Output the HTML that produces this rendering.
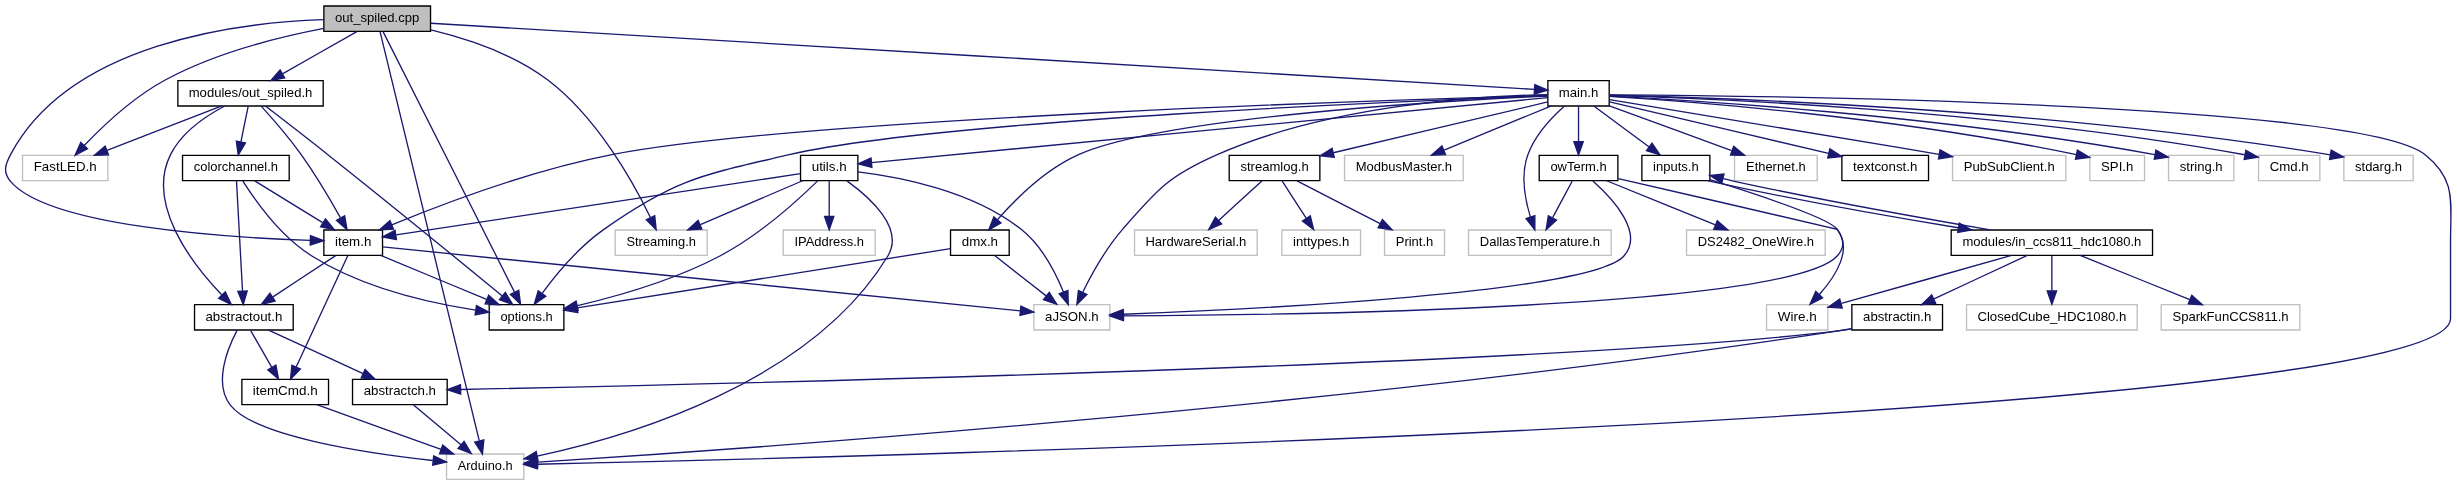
<!DOCTYPE html>
<html><head><meta charset="utf-8"><title>out_spiled.cpp include graph</title>
<style>
html,body{margin:0;padding:0;background:#fff;}
body{width:2457px;height:485px;overflow:hidden;}
svg{display:block;will-change:transform;}
svg text{font-family:"Liberation Sans",sans-serif;font-size:10px;fill:#000;}
</style></head><body>
<svg width="2457" height="485" viewBox="0 0 1842.75 363.75" preserveAspectRatio="xMinYMin meet">
<g id="graph0" class="graph" transform="scale(1 1) rotate(0) translate(4 360)">
<polygon fill="white" stroke="none" points="-4,4 -4,-360 1839.01,-360 1839.01,4 -4,4"/>
<g id="node1" class="node">
<polygon fill="#bfbfbf" stroke="black" points="238.9,-336.5 238.9,-355.5 318.9,-355.5 318.9,-336.5 238.9,-336.5"/>
<text text-anchor="middle" x="278.9" y="-343.5" textLength="63.20" lengthAdjust="spacingAndGlyphs">out_spiled.cpp</text>
</g>
<g id="node2" class="node">
<polygon fill="white" stroke="black" points="129.4,-280.5 129.4,-299.5 238.4,-299.5 238.4,-280.5 129.4,-280.5"/>
<text text-anchor="middle" x="183.9" y="-287.5" textLength="92.70" lengthAdjust="spacingAndGlyphs">modules/out_spiled.h</text>
</g>
<g id="edge1" class="edge">
<path fill="none" stroke="#191970" d="M263.64,-336.32C248.68,-327.82 225.65,-314.73 208.18,-304.8"/>
<polygon fill="#191970" stroke="#191970" points="209.55,-301.55 199.13,-299.65 206.09,-307.64 209.55,-301.55"/>
</g>
<g id="node3" class="node">
<polygon fill="white" stroke="black" points="362.9,-112.5 362.9,-131.5 418.9,-131.5 418.9,-112.5 362.9,-112.5"/>
<text text-anchor="middle" x="390.9" y="-119.5" textLength="39.20" lengthAdjust="spacingAndGlyphs">options.h</text>
</g>
<g id="edge20" class="edge">
<path fill="none" stroke="#191970" d="M283.29,-336.3C299.88,-303.42 358.92,-186.39 381.78,-141.09"/>
<polygon fill="#191970" stroke="#191970" points="385.04,-142.39 386.42,-131.88 378.79,-139.24 385.04,-142.39"/>
</g>
<g id="node5" class="node">
<polygon fill="white" stroke="#bfbfbf" points="330.9,-0.5 330.9,-19.5 388.9,-19.5 388.9,-0.5 330.9,-0.5"/>
<text text-anchor="middle" x="359.9" y="-7.5" textLength="41.20" lengthAdjust="spacingAndGlyphs">Arduino.h</text>
</g>
<g id="edge19" class="edge">
<path fill="none" stroke="#191970" d="M280.99,-336.41C291.66,-292.38 340.32,-91.74 355.42,-29.48"/>
<polygon fill="#191970" stroke="#191970" points="358.88,-30.08 357.83,-19.54 352.07,-28.43 358.88,-30.08"/>
</g>
<g id="node8" class="node">
<polygon fill="white" stroke="black" points="238.9,-168.5 238.9,-187.5 282.9,-187.5 282.9,-168.5 238.9,-168.5"/>
<text text-anchor="middle" x="260.9" y="-175.5" textLength="27.20" lengthAdjust="spacingAndGlyphs">item.h</text>
</g>
<g id="edge23" class="edge">
<path fill="none" stroke="#191970" d="M238.69,-345.22C173.69,-343.04 48.37,-327.64 3.9,-244 -0.27,-236.15 -1.82,-230.81 3.9,-224 32.27,-190.23 166.19,-181.8 228.66,-179.7"/>
<polygon fill="#191970" stroke="#191970" points="228.87,-183.19 238.75,-179.39 228.65,-176.19 228.87,-183.19"/>
</g>
<g id="node11" class="node">
<polygon fill="white" stroke="#bfbfbf" points="12.9,-224.5 12.9,-243.5 76.9,-243.5 76.9,-224.5 12.9,-224.5"/>
<text text-anchor="middle" x="44.9" y="-231.5" textLength="47.20" lengthAdjust="spacingAndGlyphs">FastLED.h</text>
</g>
<g id="edge22" class="edge">
<path fill="none" stroke="#191970" d="M238.84,-338.69C205.53,-332.3 157.64,-320.37 119.9,-300 96.11,-287.16 73.3,-265.63 59.21,-250.9"/>
<polygon fill="#191970" stroke="#191970" points="61.71,-248.44 52.33,-243.51 56.59,-253.21 61.71,-248.44"/>
</g>
<g id="node12" class="node">
<polygon fill="white" stroke="#bfbfbf" points="457.4,-168.5 457.4,-187.5 526.4,-187.5 526.4,-168.5 457.4,-168.5"/>
<text text-anchor="middle" x="491.9" y="-175.5" textLength="52.20" lengthAdjust="spacingAndGlyphs">Streaming.h</text>
</g>
<g id="edge21" class="edge">
<path fill="none" stroke="#191970" d="M319.19,-337.57C346.07,-331.09 381.08,-319.56 406.9,-300 443.94,-271.95 471.09,-223.09 483.82,-196.86"/>
<polygon fill="#191970" stroke="#191970" points="487.04,-198.25 488.12,-187.71 480.7,-195.27 487.04,-198.25"/>
</g>
<g id="node13" class="node">
<polygon fill="white" stroke="black" points="1156.9,-280.5 1156.9,-299.5 1202.9,-299.5 1202.9,-280.5 1156.9,-280.5"/>
<text text-anchor="middle" x="1179.9" y="-287.5" textLength="29.70" lengthAdjust="spacingAndGlyphs">main.h</text>
</g>
<g id="edge24" class="edge">
<path fill="none" stroke="#191970" d="M319.07,-342.59C470.84,-333.5 1007.72,-301.32 1146.8,-292.98"/>
<polygon fill="#191970" stroke="#191970" points="1147.08,-296.47 1156.85,-292.38 1146.66,-289.49 1147.08,-296.47"/>
</g>
<g id="edge2" class="edge">
<path fill="none" stroke="#191970" d="M195.08,-280.45C206.8,-271.45 225.73,-256.84 241.9,-244 289.44,-206.26 344.77,-160.97 372.73,-137.97"/>
<polygon fill="#191970" stroke="#191970" points="374.99,-140.65 380.49,-131.59 370.54,-135.24 374.99,-140.65"/>
</g>
<g id="node4" class="node">
<polygon fill="white" stroke="black" points="141.9,-112.5 141.9,-131.5 215.9,-131.5 215.9,-112.5 141.9,-112.5"/>
<text text-anchor="middle" x="178.9" y="-119.5" textLength="57.70" lengthAdjust="spacingAndGlyphs">abstractout.h</text>
</g>
<g id="edge3" class="edge">
<path fill="none" stroke="#191970" d="M164.61,-280.48C150.47,-273.08 132.35,-260.89 123.9,-244 105.35,-206.89 139.99,-162.22 162.25,-138.92"/>
<polygon fill="#191970" stroke="#191970" points="164.94,-141.17 169.5,-131.61 159.98,-136.24 164.94,-141.17"/>
</g>
<g id="edge9" class="edge">
<path fill="none" stroke="#191970" d="M191.91,-280.38C199.92,-271.56 212.38,-257.31 221.9,-244 232.88,-228.65 243.8,-210.09 251.28,-196.74"/>
<polygon fill="#191970" stroke="#191970" points="254.51,-198.14 256.27,-187.69 248.38,-194.76 254.51,-198.14"/>
</g>
<g id="node10" class="node">
<polygon fill="white" stroke="black" points="132.9,-224.5 132.9,-243.5 212.9,-243.5 212.9,-224.5 132.9,-224.5"/>
<text text-anchor="middle" x="172.9" y="-231.5" textLength="63.20" lengthAdjust="spacingAndGlyphs">colorchannel.h</text>
</g>
<g id="edge14" class="edge">
<path fill="none" stroke="#191970" d="M182.09,-280.08C180.63,-272.93 178.53,-262.64 176.71,-253.69"/>
<polygon fill="#191970" stroke="#191970" points="180.11,-252.85 174.68,-243.75 173.25,-254.25 180.11,-252.85"/>
</g>
<g id="edge18" class="edge">
<path fill="none" stroke="#191970" d="M161.88,-280.44C138.8,-271.48 102.34,-257.31 76.26,-247.18"/>
<polygon fill="#191970" stroke="#191970" points="77.41,-243.88 66.82,-243.52 74.88,-250.4 77.41,-243.88"/>
</g>
<g id="edge4" class="edge">
<path fill="none" stroke="#191970" d="M173.88,-112.38C166.73,-98.84 155.86,-72.47 168.9,-56 187.46,-32.56 270.35,-20.11 320.64,-14.6"/>
<polygon fill="#191970" stroke="#191970" points="321.26,-18.05 330.84,-13.52 320.53,-11.09 321.26,-18.05"/>
</g>
<g id="node6" class="node">
<polygon fill="white" stroke="black" points="260.4,-56.5 260.4,-75.5 331.4,-75.5 331.4,-56.5 260.4,-56.5"/>
<text text-anchor="middle" x="295.9" y="-63.5" textLength="54.20" lengthAdjust="spacingAndGlyphs">abstractch.h</text>
</g>
<g id="edge5" class="edge">
<path fill="none" stroke="#191970" d="M197.44,-112.44C216.52,-103.64 246.48,-89.81 268.34,-79.72"/>
<polygon fill="#191970" stroke="#191970" points="269.84,-82.88 277.45,-75.52 266.9,-76.53 269.84,-82.88"/>
</g>
<g id="node7" class="node">
<polygon fill="white" stroke="black" points="177.4,-56.5 177.4,-75.5 242.4,-75.5 242.4,-56.5 177.4,-56.5"/>
<text text-anchor="middle" x="209.9" y="-63.5" textLength="48.70" lengthAdjust="spacingAndGlyphs">itemCmd.h</text>
</g>
<g id="edge7" class="edge">
<path fill="none" stroke="#191970" d="M184.02,-112.08C188.31,-104.61 194.56,-93.72 199.84,-84.52"/>
<polygon fill="#191970" stroke="#191970" points="202.93,-86.17 204.88,-75.75 196.86,-82.68 202.93,-86.17"/>
</g>
<g id="edge6" class="edge">
<path fill="none" stroke="#191970" d="M306.18,-56.32C315.74,-48.26 330.18,-36.08 341.69,-26.37"/>
<polygon fill="#191970" stroke="#191970" points="344.05,-28.96 349.43,-19.83 339.53,-23.61 344.05,-28.96"/>
</g>
<g id="edge8" class="edge">
<path fill="none" stroke="#191970" d="M233.67,-56.44C258.79,-47.4 298.61,-33.06 326.8,-22.92"/>
<polygon fill="#191970" stroke="#191970" points="328.02,-26.2 336.25,-19.52 325.65,-19.61 328.02,-26.2"/>
</g>
<g id="edge10" class="edge">
<path fill="none" stroke="#191970" d="M281.5,-168.44C302.9,-159.56 336.58,-145.56 360.93,-135.45"/>
<polygon fill="#191970" stroke="#191970" points="362.51,-138.58 370.4,-131.52 359.82,-132.12 362.51,-138.58"/>
</g>
<g id="edge11" class="edge">
<path fill="none" stroke="#191970" d="M247.73,-168.32C235.06,-159.98 215.67,-147.21 200.7,-137.35"/>
<polygon fill="#191970" stroke="#191970" points="202.32,-134.23 192.04,-131.65 198.47,-140.08 202.32,-134.23"/>
</g>
<g id="edge12" class="edge">
<path fill="none" stroke="#191970" d="M256.9,-168.37C248.6,-150.46 229.34,-108.92 218.22,-84.95"/>
<polygon fill="#191970" stroke="#191970" points="221.27,-83.19 213.89,-75.59 214.92,-86.14 221.27,-83.19"/>
</g>
<g id="node9" class="node">
<polygon fill="white" stroke="#bfbfbf" points="771.4,-112.5 771.4,-131.5 828.4,-131.5 828.4,-112.5 771.4,-112.5"/>
<text text-anchor="middle" x="799.9" y="-119.5" textLength="40.20" lengthAdjust="spacingAndGlyphs">aJSON.h</text>
</g>
<g id="edge13" class="edge">
<path fill="none" stroke="#191970" d="M283.04,-174.78C365.49,-166.52 655.44,-137.47 761.05,-126.89"/>
<polygon fill="#191970" stroke="#191970" points="761.66,-130.35 771.26,-125.87 760.97,-123.38 761.66,-130.35"/>
</g>
<g id="edge15" class="edge">
<path fill="none" stroke="#191970" d="M178.06,-224.41C186.89,-210.44 206.27,-182.87 229.9,-168 267.74,-144.18 318.35,-132.74 352.65,-127.39"/>
<polygon fill="#191970" stroke="#191970" points="353.35,-130.83 362.74,-125.93 352.34,-123.9 353.35,-130.83"/>
</g>
<g id="edge16" class="edge">
<path fill="none" stroke="#191970" d="M173.37,-224.37C174.34,-206.62 176.57,-165.67 177.89,-141.6"/>
<polygon fill="#191970" stroke="#191970" points="181.38,-141.77 178.43,-131.59 174.39,-141.39 181.38,-141.77"/>
</g>
<g id="edge17" class="edge">
<path fill="none" stroke="#191970" d="M187.04,-224.32C200.77,-215.9 221.84,-202.97 237.97,-193.07"/>
<polygon fill="#191970" stroke="#191970" points="240.11,-195.87 246.8,-187.65 236.44,-189.9 240.11,-195.87"/>
</g>
<g id="edge25" class="edge">
<path fill="none" stroke="#191970" d="M1156.6,-288.18C1061.05,-284.69 699.07,-269.96 587.9,-244 523.04,-228.85 503.39,-226.3 448.9,-188 430.23,-174.87 413.41,-154.63 402.75,-140.23"/>
<polygon fill="#191970" stroke="#191970" points="405.35,-137.83 396.68,-131.74 399.65,-141.91 405.35,-137.83"/>
</g>
<g id="edge41" class="edge">
<path fill="none" stroke="#191970" d="M1203.09,-288.9C1311.65,-288.22 1766.45,-283.06 1814.9,-244 1838.33,-225.11 1833.9,-209.1 1833.9,-179 1833.9,-179 1833.9,-179 1833.9,-121 1833.9,-46.88 632.97,-16.94 399.1,-11.82"/>
<polygon fill="#191970" stroke="#191970" points="399.09,-8.32 389.01,-11.6 398.94,-15.31 399.09,-8.32"/>
</g>
<g id="edge56" class="edge">
<path fill="none" stroke="#191970" d="M1156.71,-288.38C1048.67,-285.34 594.15,-271.16 454.9,-244 394.57,-232.23 327.17,-206.68 289.81,-191.35"/>
<polygon fill="#191970" stroke="#191970" points="291.12,-188.1 280.55,-187.5 288.44,-194.57 291.12,-188.1"/>
</g>
<g id="edge53" class="edge">
<path fill="none" stroke="#191970" d="M1156.68,-288.98C1108.41,-288.12 994.62,-281.89 908.9,-244 872.14,-227.75 864.28,-218.32 837.9,-188 825.46,-173.7 814.92,-154.74 808.12,-140.99"/>
<polygon fill="#191970" stroke="#191970" points="811.13,-139.18 803.68,-131.65 804.81,-142.19 811.13,-139.18"/>
</g>
<g id="node14" class="node">
<polygon fill="white" stroke="black" points="917.9,-224.5 917.9,-243.5 985.9,-243.5 985.9,-224.5 917.9,-224.5"/>
<text text-anchor="middle" x="951.9" y="-231.5" textLength="51.20" lengthAdjust="spacingAndGlyphs">streamlog.h</text>
</g>
<g id="edge26" class="edge">
<path fill="none" stroke="#191970" d="M1156.79,-283.53C1119.16,-274.61 1044.05,-256.82 995.97,-245.44"/>
<polygon fill="#191970" stroke="#191970" points="996.69,-242.01 986.15,-243.11 995.07,-248.82 996.69,-242.01"/>
</g>
<g id="node18" class="node">
<polygon fill="white" stroke="#bfbfbf" points="1097.4,-168.5 1097.4,-187.5 1204.4,-187.5 1204.4,-168.5 1097.4,-168.5"/>
<text text-anchor="middle" x="1150.9" y="-175.5" textLength="90.20" lengthAdjust="spacingAndGlyphs">DallasTemperature.h</text>
</g>
<g id="edge30" class="edge">
<path fill="none" stroke="#191970" d="M1169.19,-280.3C1159.96,-272.07 1147.31,-258.79 1141.9,-244 1136.34,-228.8 1139.72,-210.46 1143.83,-197.14"/>
<polygon fill="#191970" stroke="#191970" points="1147.14,-198.29 1147.13,-187.69 1140.53,-195.98 1147.14,-198.29"/>
</g>
<g id="node19" class="node">
<polygon fill="white" stroke="#bfbfbf" points="1004.4,-224.5 1004.4,-243.5 1093.4,-243.5 1093.4,-224.5 1004.4,-224.5"/>
<text text-anchor="middle" x="1048.9" y="-231.5" textLength="72.20" lengthAdjust="spacingAndGlyphs">ModbusMaster.h</text>
</g>
<g id="edge31" class="edge">
<path fill="none" stroke="#191970" d="M1159.14,-280.44C1137.59,-271.56 1103.64,-257.56 1079.11,-247.45"/>
<polygon fill="#191970" stroke="#191970" points="1080.14,-244.09 1069.56,-243.52 1077.47,-250.56 1080.14,-244.09"/>
</g>
<g id="node20" class="node">
<polygon fill="white" stroke="black" points="1150.4,-224.5 1150.4,-243.5 1209.4,-243.5 1209.4,-224.5 1150.4,-224.5"/>
<text text-anchor="middle" x="1179.9" y="-231.5" textLength="42.20" lengthAdjust="spacingAndGlyphs">owTerm.h</text>
</g>
<g id="edge32" class="edge">
<path fill="none" stroke="#191970" d="M1179.9,-280.08C1179.9,-273.01 1179.9,-262.86 1179.9,-253.99"/>
<polygon fill="#191970" stroke="#191970" points="1183.4,-253.75 1179.9,-243.75 1176.4,-253.75 1183.4,-253.75"/>
</g>
<g id="node23" class="node">
<polygon fill="white" stroke="black" points="708.9,-168.5 708.9,-187.5 752.9,-187.5 752.9,-168.5 708.9,-168.5"/>
<text text-anchor="middle" x="730.9" y="-175.5" textLength="27.20" lengthAdjust="spacingAndGlyphs">dmx.h</text>
</g>
<g id="edge37" class="edge">
<path fill="none" stroke="#191970" d="M1156.86,-288.02C1085.42,-284.69 868.59,-272.45 804.9,-244 780.14,-232.94 757.65,-210.63 744.13,-195.26"/>
<polygon fill="#191970" stroke="#191970" points="746.72,-192.9 737.58,-187.55 741.38,-197.43 746.72,-192.9"/>
</g>
<g id="node24" class="node">
<polygon fill="white" stroke="#bfbfbf" points="1296.9,-224.5 1296.9,-243.5 1358.9,-243.5 1358.9,-224.5 1296.9,-224.5"/>
<text text-anchor="middle" x="1327.9" y="-231.5" textLength="44.70" lengthAdjust="spacingAndGlyphs">Ethernet.h</text>
</g>
<g id="edge40" class="edge">
<path fill="none" stroke="#191970" d="M1203.03,-280.56C1227.65,-271.58 1266.82,-257.29 1294.73,-247.1"/>
<polygon fill="#191970" stroke="#191970" points="1296.26,-250.27 1304.45,-243.56 1293.86,-243.7 1296.26,-250.27"/>
</g>
<g id="node25" class="node">
<polygon fill="white" stroke="black" points="596.4,-224.5 596.4,-243.5 639.4,-243.5 639.4,-224.5 596.4,-224.5"/>
<text text-anchor="middle" x="617.9" y="-231.5" textLength="26.20" lengthAdjust="spacingAndGlyphs">utils.h</text>
</g>
<g id="edge42" class="edge">
<path fill="none" stroke="#191970" d="M1156.82,-286.78C1068.45,-278.29 751.43,-247.83 649.62,-238.05"/>
<polygon fill="#191970" stroke="#191970" points="649.93,-234.56 639.64,-237.09 649.26,-241.53 649.93,-234.56"/>
</g>
<g id="node27" class="node">
<polygon fill="white" stroke="black" points="1377.4,-224.5 1377.4,-243.5 1442.4,-243.5 1442.4,-224.5 1377.4,-224.5"/>
<text text-anchor="middle" x="1409.9" y="-231.5" textLength="48.20" lengthAdjust="spacingAndGlyphs">textconst.h</text>
</g>
<g id="edge49" class="edge">
<path fill="none" stroke="#191970" d="M1203.22,-283.53C1241.71,-274.49 1319.08,-256.32 1367.47,-244.96"/>
<polygon fill="#191970" stroke="#191970" points="1368.4,-248.34 1377.33,-242.65 1366.8,-241.53 1368.4,-248.34"/>
</g>
<g id="node28" class="node">
<polygon fill="white" stroke="#bfbfbf" points="1460.4,-224.5 1460.4,-243.5 1545.4,-243.5 1545.4,-224.5 1460.4,-224.5"/>
<text text-anchor="middle" x="1502.9" y="-231.5" textLength="68.20" lengthAdjust="spacingAndGlyphs">PubSubClient.h</text>
</g>
<g id="edge50" class="edge">
<path fill="none" stroke="#191970" d="M1203.2,-285.23C1248.68,-277.86 1352.69,-260.9 1450.3,-244.26"/>
<polygon fill="#191970" stroke="#191970" points="1451.06,-247.68 1460.33,-242.55 1449.88,-240.78 1451.06,-247.68"/>
</g>
<g id="node29" class="node">
<polygon fill="white" stroke="#bfbfbf" points="1563.4,-224.5 1563.4,-243.5 1604.4,-243.5 1604.4,-224.5 1563.4,-224.5"/>
<text text-anchor="middle" x="1583.9" y="-231.5" textLength="24.20" lengthAdjust="spacingAndGlyphs">SPI.h</text>
</g>
<g id="edge51" class="edge">
<path fill="none" stroke="#191970" d="M1202.97,-287.69C1260.67,-284.12 1415.93,-272.6 1553.26,-244.03"/>
<polygon fill="#191970" stroke="#191970" points="1554.05,-247.44 1563.11,-241.95 1552.6,-240.59 1554.05,-247.44"/>
</g>
<g id="node30" class="node">
<polygon fill="white" stroke="#bfbfbf" points="1622.4,-224.5 1622.4,-243.5 1671.4,-243.5 1671.4,-224.5 1622.4,-224.5"/>
<text text-anchor="middle" x="1646.9" y="-231.5" textLength="32.20" lengthAdjust="spacingAndGlyphs">string.h</text>
</g>
<g id="edge52" class="edge">
<path fill="none" stroke="#191970" d="M1203.15,-287.92C1267.06,-284.69 1450.9,-273.49 1612.05,-244.09"/>
<polygon fill="#191970" stroke="#191970" points="1612.94,-247.48 1622.14,-242.22 1611.67,-240.6 1612.94,-247.48"/>
</g>
<g id="node31" class="node">
<polygon fill="white" stroke="#bfbfbf" points="1689.9,-224.5 1689.9,-243.5 1735.9,-243.5 1735.9,-224.5 1689.9,-224.5"/>
<text text-anchor="middle" x="1712.9" y="-231.5" textLength="29.20" lengthAdjust="spacingAndGlyphs">Cmd.h</text>
</g>
<g id="edge54" class="edge">
<path fill="none" stroke="#191970" d="M1203.08,-288.44C1273.47,-286.41 1490.99,-277.8 1679.51,-243.93"/>
<polygon fill="#191970" stroke="#191970" points="1680.39,-247.33 1689.6,-242.09 1679.13,-240.44 1680.39,-247.33"/>
</g>
<g id="node32" class="node">
<polygon fill="white" stroke="#bfbfbf" points="1753.9,-224.5 1753.9,-243.5 1805.9,-243.5 1805.9,-224.5 1753.9,-224.5"/>
<text text-anchor="middle" x="1779.9" y="-231.5" textLength="35.20" lengthAdjust="spacingAndGlyphs">stdarg.h</text>
</g>
<g id="edge55" class="edge">
<path fill="none" stroke="#191970" d="M1202.95,-288.58C1278.98,-286.92 1528.76,-279.07 1743.75,-243.91"/>
<polygon fill="#191970" stroke="#191970" points="1744.34,-247.36 1753.63,-242.27 1743.19,-240.46 1744.34,-247.36"/>
</g>
<g id="node33" class="node">
<polygon fill="white" stroke="black" points="1227.4,-224.5 1227.4,-243.5 1278.4,-243.5 1278.4,-224.5 1227.4,-224.5"/>
<text text-anchor="middle" x="1252.9" y="-231.5" textLength="34.20" lengthAdjust="spacingAndGlyphs">inputs.h</text>
</g>
<g id="edge57" class="edge">
<path fill="none" stroke="#191970" d="M1191.63,-280.32C1202.74,-272.11 1219.64,-259.6 1232.89,-249.81"/>
<polygon fill="#191970" stroke="#191970" points="1235,-252.59 1240.96,-243.83 1230.84,-246.97 1235,-252.59"/>
</g>
<g id="node15" class="node">
<polygon fill="white" stroke="#bfbfbf" points="1034.4,-168.5 1034.4,-187.5 1079.4,-187.5 1079.4,-168.5 1034.4,-168.5"/>
<text text-anchor="middle" x="1056.9" y="-175.5" textLength="28.20" lengthAdjust="spacingAndGlyphs">Print.h</text>
</g>
<g id="edge27" class="edge">
<path fill="none" stroke="#191970" d="M968.77,-224.32C985.61,-215.66 1011.71,-202.24 1031.14,-192.25"/>
<polygon fill="#191970" stroke="#191970" points="1032.78,-195.34 1040.07,-187.65 1029.58,-189.12 1032.78,-195.34"/>
</g>
<g id="node16" class="node">
<polygon fill="white" stroke="#bfbfbf" points="846.9,-168.5 846.9,-187.5 938.9,-187.5 938.9,-168.5 846.9,-168.5"/>
<text text-anchor="middle" x="892.9" y="-175.5" textLength="75.70" lengthAdjust="spacingAndGlyphs">HardwareSerial.h</text>
</g>
<g id="edge28" class="edge">
<path fill="none" stroke="#191970" d="M942.42,-224.32C933.7,-216.34 920.56,-204.31 910,-194.65"/>
<polygon fill="#191970" stroke="#191970" points="912.29,-192 902.55,-187.83 907.57,-197.17 912.29,-192"/>
</g>
<g id="node17" class="node">
<polygon fill="white" stroke="#bfbfbf" points="957.4,-168.5 957.4,-187.5 1016.4,-187.5 1016.4,-168.5 957.4,-168.5"/>
<text text-anchor="middle" x="986.9" y="-175.5" textLength="42.20" lengthAdjust="spacingAndGlyphs">inttypes.h</text>
</g>
<g id="edge29" class="edge">
<path fill="none" stroke="#191970" d="M957.68,-224.08C962.57,-216.53 969.73,-205.49 975.73,-196.23"/>
<polygon fill="#191970" stroke="#191970" points="978.73,-198.05 981.23,-187.75 972.85,-194.24 978.73,-198.05"/>
</g>
<g id="edge35" class="edge">
<path fill="none" stroke="#191970" d="M1190.66,-224.17C1205.67,-210.83 1229.38,-185.25 1213.9,-168 1189.07,-140.32 936.72,-128.07 838.62,-124.32"/>
<polygon fill="#191970" stroke="#191970" points="838.65,-120.82 828.53,-123.95 838.39,-127.82 838.65,-120.82"/>
</g>
<g id="edge34" class="edge">
<path fill="none" stroke="#191970" d="M1175.11,-224.08C1171.14,-216.69 1165.38,-205.95 1160.47,-196.81"/>
<polygon fill="#191970" stroke="#191970" points="1163.42,-194.91 1155.6,-187.75 1157.25,-198.22 1163.42,-194.91"/>
</g>
<g id="node21" class="node">
<polygon fill="white" stroke="#bfbfbf" points="1260.9,-168.5 1260.9,-187.5 1364.9,-187.5 1364.9,-168.5 1260.9,-168.5"/>
<text text-anchor="middle" x="1312.9" y="-175.5" textLength="87.20" lengthAdjust="spacingAndGlyphs">DS2482_OneWire.h</text>
</g>
<g id="edge33" class="edge">
<path fill="none" stroke="#191970" d="M1200.98,-224.44C1222.96,-215.52 1257.64,-201.44 1282.57,-191.32"/>
<polygon fill="#191970" stroke="#191970" points="1283.98,-194.52 1291.93,-187.52 1281.34,-188.04 1283.98,-194.52"/>
</g>
<g id="node22" class="node">
<polygon fill="white" stroke="#bfbfbf" points="1320.9,-112.5 1320.9,-131.5 1366.9,-131.5 1366.9,-112.5 1320.9,-112.5"/>
<text text-anchor="middle" x="1343.9" y="-119.5" textLength="29.20" lengthAdjust="spacingAndGlyphs">Wire.h</text>
</g>
<g id="edge36" class="edge">
<path fill="none" stroke="#191970" d="M1209.76,-226.1C1264.13,-213.55 1373.74,-188.2 1373.9,-188 1385.67,-173.2 1372.85,-153.03 1360.52,-139.1"/>
<polygon fill="#191970" stroke="#191970" points="1362.92,-136.56 1353.5,-131.71 1357.85,-141.38 1362.92,-136.56"/>
</g>
<g id="edge38" class="edge">
<path fill="none" stroke="#191970" d="M708.86,-173.5C652.05,-164.48 500.17,-140.35 428.86,-129.03"/>
<polygon fill="#191970" stroke="#191970" points="429.37,-125.57 418.95,-127.45 428.28,-132.48 429.37,-125.57"/>
</g>
<g id="edge39" class="edge">
<path fill="none" stroke="#191970" d="M741.99,-168.32C752.39,-160.18 768.16,-147.84 780.62,-138.09"/>
<polygon fill="#191970" stroke="#191970" points="782.9,-140.75 788.61,-131.83 778.58,-135.24 782.9,-140.75"/>
</g>
<g id="edge46" class="edge">
<path fill="none" stroke="#191970" d="M609.11,-224.17C594.89,-210.35 565.46,-183.6 535.9,-168 501.81,-150.01 459.34,-137.89 429.2,-130.8"/>
<polygon fill="#191970" stroke="#191970" points="429.61,-127.3 419.09,-128.5 428.06,-134.13 429.61,-127.3"/>
</g>
<g id="edge43" class="edge">
<path fill="none" stroke="#191970" d="M631.17,-224.35C648.3,-212.06 674.49,-188.73 661.9,-168 603.85,-72.39 466.54,-32.34 398.92,-17.95"/>
<polygon fill="#191970" stroke="#191970" points="399.57,-14.51 389.07,-15.93 398.17,-21.37 399.57,-14.51"/>
</g>
<g id="edge47" class="edge">
<path fill="none" stroke="#191970" d="M596.37,-229.74C536.01,-220.61 364.86,-194.72 293.14,-183.88"/>
<polygon fill="#191970" stroke="#191970" points="293.32,-180.36 282.91,-182.33 292.28,-187.29 293.32,-180.36"/>
</g>
<g id="edge45" class="edge">
<path fill="none" stroke="#191970" d="M639.45,-231.13C669.75,-227.51 725.32,-217.12 761.9,-188 777.21,-175.82 787.61,-155.66 793.6,-141.02"/>
<polygon fill="#191970" stroke="#191970" points="796.93,-142.12 797.2,-131.53 790.38,-139.64 796.93,-142.12"/>
</g>
<g id="edge48" class="edge">
<path fill="none" stroke="#191970" d="M597.94,-224.44C577.29,-215.6 544.84,-201.69 521.27,-191.59"/>
<polygon fill="#191970" stroke="#191970" points="522.34,-188.24 511.77,-187.52 519.59,-194.67 522.34,-188.24"/>
</g>
<g id="node26" class="node">
<polygon fill="white" stroke="#bfbfbf" points="583.4,-168.5 583.4,-187.5 652.4,-187.5 652.4,-168.5 583.4,-168.5"/>
<text text-anchor="middle" x="617.9" y="-175.5" textLength="52.20" lengthAdjust="spacingAndGlyphs">IPAddress.h</text>
</g>
<g id="edge44" class="edge">
<path fill="none" stroke="#191970" d="M617.9,-224.08C617.9,-217.01 617.9,-206.86 617.9,-197.99"/>
<polygon fill="#191970" stroke="#191970" points="621.4,-197.75 617.9,-187.75 614.4,-197.75 621.4,-197.75"/>
</g>
<g id="edge58" class="edge">
<path fill="none" stroke="#191970" d="M1278.46,-225.2C1312.25,-214.64 1368.23,-196.17 1373.9,-188 1378.98,-180.7 1379.94,-174.53 1373.9,-168 1337.63,-128.78 961.69,-123.68 838.65,-123.07"/>
<polygon fill="#191970" stroke="#191970" points="838.56,-119.57 828.55,-123.02 838.53,-126.57 838.56,-119.57"/>
</g>
<g id="node34" class="node">
<polygon fill="white" stroke="black" points="1459.4,-168.5 1459.4,-187.5 1610.4,-187.5 1610.4,-168.5 1459.4,-168.5"/>
<text text-anchor="middle" x="1534.9" y="-175.5" textLength="134.20" lengthAdjust="spacingAndGlyphs">modules/in_ccs811_hdc1080.h</text>
</g>
<g id="edge59" class="edge">
<path fill="none" stroke="#191970" d="M1276.68,-224.5C1277.42,-224.33 1278.17,-224.16 1278.9,-224 1341.17,-210.34 1412.9,-197.6 1464.65,-189.19"/>
<polygon fill="#191970" stroke="#191970" points="1465.4,-192.61 1474.72,-187.57 1464.29,-185.7 1465.4,-192.61"/>
</g>
<g id="edge64" class="edge">
<path fill="none" stroke="#191970" d="M1504.64,-168.44C1469.88,-158.62 1413.05,-142.55 1377.11,-132.39"/>
<polygon fill="#191970" stroke="#191970" points="1377.69,-128.92 1367.12,-129.56 1375.79,-135.65 1377.69,-128.92"/>
</g>
<g id="edge60" class="edge">
<path fill="none" stroke="#191970" d="M1488.65,-187.57C1440.51,-195.91 1363.32,-209.43 1296.9,-224 1294.14,-224.6 1291.27,-225.28 1288.37,-225.97"/>
<polygon fill="#191970" stroke="#191970" points="1287.36,-222.61 1278.46,-228.36 1289,-229.42 1287.36,-222.61"/>
</g>
<g id="node35" class="node">
<polygon fill="white" stroke="black" points="1384.9,-112.5 1384.9,-131.5 1452.9,-131.5 1452.9,-112.5 1384.9,-112.5"/>
<text text-anchor="middle" x="1418.9" y="-119.5" textLength="51.20" lengthAdjust="spacingAndGlyphs">abstractin.h</text>
</g>
<g id="edge61" class="edge">
<path fill="none" stroke="#191970" d="M1516.52,-168.44C1497.69,-159.68 1468.17,-145.94 1446.52,-135.86"/>
<polygon fill="#191970" stroke="#191970" points="1447.74,-132.56 1437.2,-131.52 1444.79,-138.91 1447.74,-132.56"/>
</g>
<g id="node36" class="node">
<polygon fill="white" stroke="#bfbfbf" points="1470.9,-112.5 1470.9,-131.5 1598.9,-131.5 1598.9,-112.5 1470.9,-112.5"/>
<text text-anchor="middle" x="1534.9" y="-119.5" textLength="111.70" lengthAdjust="spacingAndGlyphs">ClosedCube_HDC1080.h</text>
</g>
<g id="edge65" class="edge">
<path fill="none" stroke="#191970" d="M1534.9,-168.08C1534.9,-161.01 1534.9,-150.86 1534.9,-141.99"/>
<polygon fill="#191970" stroke="#191970" points="1538.4,-141.75 1534.9,-131.75 1531.4,-141.75 1538.4,-141.75"/>
</g>
<g id="node37" class="node">
<polygon fill="white" stroke="#bfbfbf" points="1616.9,-112.5 1616.9,-131.5 1720.9,-131.5 1720.9,-112.5 1616.9,-112.5"/>
<text text-anchor="middle" x="1668.9" y="-119.5" textLength="87.20" lengthAdjust="spacingAndGlyphs">SparkFunCCS811.h</text>
</g>
<g id="edge66" class="edge">
<path fill="none" stroke="#191970" d="M1556.13,-168.44C1578.29,-159.52 1613.22,-145.44 1638.34,-135.32"/>
<polygon fill="#191970" stroke="#191970" points="1639.8,-138.5 1647.77,-131.52 1637.19,-132.01 1639.8,-138.5"/>
</g>
<g id="edge62" class="edge">
<path fill="none" stroke="#191970" d="M1384.69,-113.5C1381.73,-112.95 1378.77,-112.44 1375.9,-112 998.08,-53.85 535.8,-22 399.49,-13.4"/>
<polygon fill="#191970" stroke="#191970" points="399.34,-9.89 389.14,-12.75 398.9,-16.87 399.34,-9.89"/>
</g>
<g id="edge63" class="edge">
<path fill="none" stroke="#191970" d="M1384.72,-113.32C1381.75,-112.81 1378.78,-112.36 1375.9,-112 1170.95,-86.46 520,-71.57 341.53,-67.9"/>
<polygon fill="#191970" stroke="#191970" points="341.51,-64.4 331.44,-67.69 341.37,-71.4 341.51,-64.4"/>
</g>
</g>
</svg>

</body></html>
